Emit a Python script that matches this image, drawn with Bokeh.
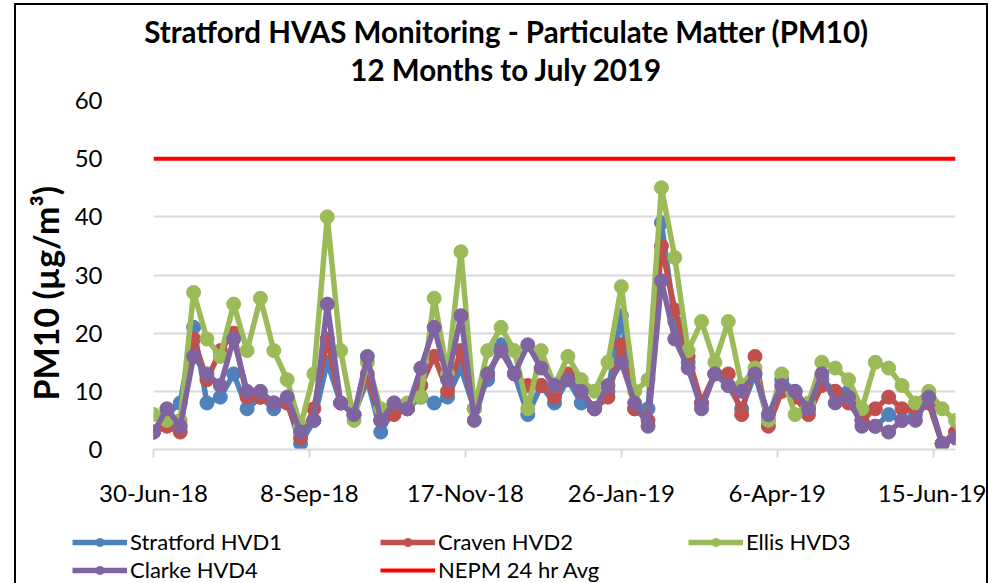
import math
import pandas as pd
from bokeh.plotting import figure
from bokeh.layouts import column
from bokeh.models import Range1d, FixedTicker, Legend, LegendItem, Title, Label
from bokeh.embed import file_html
from bokeh.resources import INLINE

# ---------------- data ----------------
first_sample = "2018-06-30"
n_samples = 61
sample_dates = pd.date_range(first_sample, periods=n_samples, freq="6D")

stratford_hvd1 = [3, 6, 8, 21, 8, 9, 13, 7, 9, 7, 8, 1, 5, 15, 8, 6, 12, 3, 7, 7,
                  9, 8, 9, 14, 7, 12, 18, 13, 6, 11, 8, 12, 8, 7, 10, 23, 7, 7, 39, 22,
                  15, 8, 13, 11, 7, 13, 5, 12, 10, 7, 12, 10, 10, 5, 4, 6, 5, 6, 8, 1, 2]
craven_hvd2 = [3, 4, 3, 19, 12, 17, 20, 9, 9, 8, 8, 2, 7, 19, 8, 6, 13, 5, 6, 7,
               11, 16, 10, 17, 7, 13, 17, 13, 11, 11, 9, 13, 10, 7, 9, 18, 7, 5, 35, 24,
               16, 8, 13, 13, 6, 16, 4, 10, 9, 6, 11, 10, 8, 5, 7, 9, 7, 7, 8, 1, 3]
ellis_hvd3 = [6, 5, 5, 27, 19, 16, 25, 17, 26, 17, 12, 4, 13, 40, 17, 5, 15, 7, 8, 8,
              9, 26, 13, 34, 7, 17, 21, 17, 7, 17, 11, 16, 12, 10, 15, 28, 10, 12, 45, 33,
              17, 22, 15, 22, 11, 14, 5, 13, 6, 8, 15, 14, 12, 7, 15, 14, 11, 8, 10, 7, 5]
clarke_hvd4 = [3, 7, 4, 16, 13, 11, 19, 10, 10, 8, 9, 3, 5, 25, 8, 6, 16, 5, 8, 7,
               14, 21, 12, 23, 5, 13, 17, 13, 18, 14, 11, 12, 10, 7, 11, 15, 8, 4, 29, 19,
               14, 7, 13, 11, 10, 13, 6, 11, 10, 7, 13, 8, 9, 4, 4, 3, 5, 5, 9, 1, 2]
nepm_24hr_avg = 50

series_names = ["Stratford HVD1", "Craven HVD2", "Ellis HVD3", "Clarke HVD4"]
series_colors = ["#4F81BD", "#C0504D", "#9BBB59", "#8064A2"]
nepm_name = "NEPM 24 hr Avg"
nepm_color = "#FF0000"

tick_dates = ["2018-06-30", "2018-09-08", "2018-11-17", "2019-01-26", "2019-04-06", "2019-06-15"]
tick_labels = ["30-Jun-18", "8-Sep-18", "17-Nov-18", "26-Jan-19", "6-Apr-19", "15-Jun-19"]
y_ticks = [0, 10, 20, 30, 40, 50, 60]

title_line1 = "Stratford HVAS Monitoring - Particulate Matter (PM10)"
title_line2 = "12 Months to July 2019"
y_title = "PM10 (µg/m³)"

# ---------------- derived ----------------
t0 = sample_dates[0]
x = [int((d - t0).days) for d in sample_dates]
tick_x = [int((pd.Timestamp(d) - t0).days) for d in tick_dates]
all_series = [stratford_hvd1, craven_hvd2, ellis_hvd3, clarke_hvd4]

FONT = "Lato"
LINE_W = 5.5
MARK_SIZE = 14
NAN = math.nan
W = 970


def strip(height):
    f = figure(width=W, height=height, output_backend="svg", toolbar_location=None,
               x_range=Range1d(0, 1), y_range=Range1d(0, 1),
               x_axis_type=None, y_axis_type=None,
               min_border_left=0, min_border_right=0, min_border_top=0, min_border_bottom=0)
    f.frame_align = False
    f.outline_line_color = None
    f.xgrid.grid_line_color = None
    f.ygrid.grid_line_color = None
    f.background_fill_color = "white"
    f.border_fill_color = "white"
    return f


# ---------------- title strip ----------------
tt = strip(81)
for txt, sy in [(title_line1, 55), (title_line2, 17)]:
    tt.add_layout(Label(x=490, y=sy, x_units="screen", y_units="screen", text=txt,
                        text_align="center", text_baseline="middle", text_font=FONT,
                        text_font_size="29.5px", text_font_style="bold", text_color="black"))

# ---------------- main chart ----------------
p = figure(width=W, height=433, output_backend="svg", toolbar_location=None,
           x_range=Range1d(x[0], x[-1]), y_range=Range1d(0, 60),
           min_border_left=136, min_border_right=31, min_border_top=14, min_border_bottom=70)
p.frame_align = False
p.outline_line_color = None
p.background_fill_color = "white"
p.border_fill_color = "white"

xa = p.xaxis[0]
xa.ticker = FixedTicker(ticks=tick_x)
xa.major_label_overrides = {tx: lab for tx, lab in zip(tick_x, tick_labels)}
xa.axis_line_color = "#D9D9D9"
xa.axis_line_width = 2
xa.major_tick_line_color = "#D9D9D9"
xa.major_tick_line_width = 2
xa.major_tick_in = 0
xa.major_tick_out = 8
xa.minor_tick_line_color = None
xa.major_label_text_font = FONT
xa.major_label_text_font_size = "24px"
xa.major_label_text_color = "black"
xa.major_label_standoff = 20

ya = p.yaxis[0]
ya.ticker = FixedTicker(ticks=y_ticks)
ya.axis_line_color = None
ya.major_tick_line_color = None
ya.minor_tick_line_color = None
ya.major_label_text_font = FONT
ya.major_label_text_font_size = "24px"
ya.major_label_text_color = "black"
ya.major_label_standoff = 45

p.xgrid.grid_line_color = None
p.ygrid.grid_line_color = "#D9D9D9"
p.ygrid.grid_line_width = 2

p.line([x[0], x[-1]], [nepm_24hr_avg, nepm_24hr_avg], line_color=nepm_color, line_width=4)
for vals, col in zip(all_series, series_colors):
    p.line(x, vals, line_color=col, line_width=LINE_W)
    p.scatter(x, vals, marker="circle", size=MARK_SIZE, fill_color=col, line_color=col)

p.add_layout(Title(text=y_title, align="left", offset=49, text_font=FONT,
                   text_font_size="34px", text_font_style="bold", text_color="black",
                   standoff=12), "left")

# ---------------- legend strip ----------------
lg = strip(64)
items = []
for name, col in zip(series_names, series_colors):
    lr = lg.line([NAN], [NAN], line_color=col, line_width=LINE_W)
    sr = lg.scatter([NAN], [NAN], marker="circle", size=MARK_SIZE, fill_color=col, line_color=col)
    items.append(LegendItem(label=name, renderers=[lr, sr]))
nr = lg.line([NAN], [NAN], line_color=nepm_color, line_width=4)
items.append(LegendItem(label=nepm_name, renderers=[nr]))

legend = Legend(items=items, location=(56, 0), orientation="horizontal", ncols=3,
                glyph_width=55, glyph_height=20, label_standoff=3, label_width=249,
                label_height=20, spacing=1, padding=0, margin=0,
                label_text_font=FONT, label_text_font_size="22px", label_text_color="black",
                border_line_color=None, background_fill_alpha=0)
lg.add_layout(legend, "center")

layout = column(tt, p, lg, spacing=0)
layout.margin = (5, 0, 0, 16)
layout.styles = {"outline": "2px solid black"}

open("out.html", "w").write(file_html(layout, INLINE))
